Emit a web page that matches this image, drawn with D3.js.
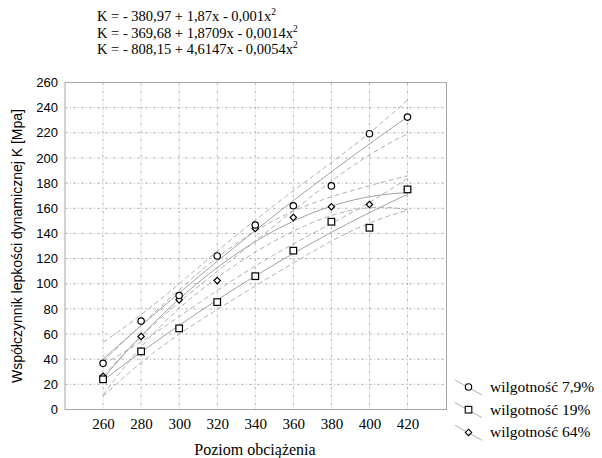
<!DOCTYPE html>
<html><head><meta charset="utf-8">
<script src="https://cdn.jsdelivr.net/npm/d3@7"></script>
<style>body{margin:0;background:#fff}</style>
</head><body>
<script>
const xValues = [260, 280, 300, 320, 340, 360, 380, 400, 420];
const series1 = [36.7, 70.3, 90.6, 122.1, 146.7, 162.0, 177.8, 219.3, 232.5]; // wilgotność 7,9%
const series2 = [24.0, 46.2, 64.5, 85.4, 106.0, 126.3, 149.3, 144.5, 175.0]; // wilgotność 19%
const series3 = [26.4, 58.1, 87.2, 102.5, 144.0, 152.7, 161.2, 163.0, 175.0]; // wilgotność 64%
const seriesNames = ["wilgotność 7,9%", "wilgotność 19%", "wilgotność 64%"];
const seriesSymbols = ["circle", "square", "diamond"];
const xTicks = [260, 280, 300, 320, 340, 360, 380, 400, 420];
const yTicks = [0, 20, 40, 60, 80, 100, 120, 140, 160, 180, 200, 220, 240, 260];
const equations = [
  ["K = - 380,97 + 1,87x - 0,001x", "2"],
  ["K = - 369,68 + 1,8709x - 0,0014x", "2"],
  ["K = - 808,15 + 4,6147x - 0,0054x", "2"]
];
const tCrit = 2.447; // t(0.975, df = 6)

const SERIF = "'Liberation Serif', 'Times New Roman', serif";
const SANS = "'Liberation Sans', Arial, sans-serif";

const W = 602, H = 458;
const svg = d3.select("body").append("svg").attr("width", W).attr("height", H);
const L = 65, R = 446.5, T = 82.5, B = 409.5;
const x = d3.scaleLinear().domain([240, 440.5]).range([L, R]);
const y = d3.scaleLinear().domain([0, 260]).range([B, T]);

// grid
const g = svg.append("g");
g.selectAll(".gx").data(xTicks).join("line")
  .attr("x1", d => x(d)).attr("x2", d => x(d)).attr("y1", T).attr("y2", B)
  .attr("stroke", "#b8b8b8").attr("stroke-width", 1).attr("stroke-dasharray", "3,2,1,2");
g.selectAll(".gy").data(yTicks.slice(1, -1)).join("line")
  .attr("x1", L).attr("x2", R).attr("y1", d => y(d)).attr("y2", d => y(d))
  .attr("stroke", "#b8b8b8").attr("stroke-width", 1).attr("stroke-dasharray", "3,2,1,2");
svg.append("rect").attr("x", L).attr("y", T).attr("width", R - L).attr("height", B - T)
  .attr("fill", "none").attr("stroke", "#a8a8a8").attr("stroke-width", 1);

// axes
const xAxis = svg.append("g").attr("transform", `translate(0,${B})`)
  .call(d3.axisBottom(x).tickValues(xTicks).tickSize(0).tickPadding(9).tickFormat(d3.format("d")));
xAxis.select(".domain").remove();
xAxis.attr("font-family", SERIF).attr("font-size", 15);
xAxis.selectAll("text").style("font-family", SERIF).style("font-size", "15px").attr("fill", "#000");
const yAxis = svg.append("g").attr("transform", `translate(${L},0)`)
  .call(d3.axisLeft(y).tickValues(yTicks).tickSize(0).tickPadding(7).tickFormat(d3.format("d")));
yAxis.select(".domain").remove();
yAxis.attr("font-family", SANS).attr("font-size", 13);
yAxis.selectAll("text").style("font-family", SANS).style("font-size", "13px").attr("fill", "#000");

// titles
svg.append("text").attr("x", 255).attr("y", 455).attr("text-anchor", "middle")
  .style("font-family", SERIF).style("font-size", "16px")
  .text("Poziom obciążenia");
svg.append("text").attr("transform", `translate(22,${(T + B) / 2}) rotate(-90)`).attr("text-anchor", "middle")
  .style("font-family", SANS).style("font-size", "14px")
  .text("Współczynnik lepkości dynamicznej K [Mpa]");

// equations
equations.forEach((e, i) => {
  const t = svg.append("text").attr("x", 97).attr("y", 21 + i * 16.5)
    .style("font-family", SERIF).style("font-size", "14.5px");
  t.append("tspan").text(e[0]);
  t.append("tspan").attr("dy", -6).style("font-size", "9.5px").text(e[1]);
});

// quadratic least squares fit + 95% confidence band
function inv3(m) {
  const [a, b, c] = m[0], [d, e, f] = m[1], [gg, h, k] = m[2];
  const A = e * k - f * h, Bc = -(d * k - f * gg), C = d * h - e * gg;
  const det = a * A + b * Bc + c * C;
  return [
    [A / det, -(b * k - c * h) / det, (b * f - c * e) / det],
    [Bc / det, (a * k - c * gg) / det, -(a * f - c * d) / det],
    [C / det, -(a * h - b * gg) / det, (a * e - b * d) / det]
  ];
}
function fit(xs, ys) {
  const xc = 340;
  const rows = xs.map(v => [1, v - xc, (v - xc) * (v - xc)]);
  const XtX = [0, 1, 2].map(i => [0, 1, 2].map(j => d3.sum(rows, r => r[i] * r[j])));
  const Xty = [0, 1, 2].map(i => d3.sum(rows, (r, n) => r[i] * ys[n]));
  const Inv = inv3(XtX);
  const beta = Inv.map(row => row[0] * Xty[0] + row[1] * Xty[1] + row[2] * Xty[2]);
  const pred = r => beta[0] * r[0] + beta[1] * r[1] + beta[2] * r[2];
  const sse = d3.sum(rows, (r, n) => (ys[n] - pred(r)) ** 2);
  const s2 = sse / (xs.length - 3);
  return v => {
    const r = [1, v - xc, (v - xc) * (v - xc)];
    let q = 0;
    for (let i = 0; i < 3; i++) for (let j = 0; j < 3; j++) q += r[i] * Inv[i][j] * r[j];
    const yh = pred(r), se = Math.sqrt(s2 * q);
    return { x: v, y: yh, lo: yh - tCrit * se, hi: yh + tCrit * se };
  };
}

const allSeries = [series1, series2, series3];
const grid = d3.range(xValues[0], xValues[xValues.length - 1] + 0.001, 2);
const line = key => d3.line().x(d => x(d.x)).y(d => y(d[key])).curve(d3.curveLinear);
allSeries.forEach(ys => {
  const f = fit(xValues, ys);
  const pts = grid.map(f);
  svg.append("path").datum(pts).attr("d", line("y")).attr("fill", "none")
    .attr("stroke", "#a0a0a0").attr("stroke-width", 1);
  ["lo", "hi"].forEach(k => svg.append("path").datum(pts).attr("d", line(k)).attr("fill", "none")
    .attr("stroke", "#b0b0b0").attr("stroke-width", 1).attr("stroke-dasharray", "5,3"));
});

// markers (diamonds underneath, squares on top)
function marker(sel, type, cx, cy) {
  if (type === "circle") sel.append("circle").attr("cx", cx).attr("cy", cy).attr("r", 3.2);
  else if (type === "square") sel.append("rect").attr("x", cx - 3.3).attr("y", cy - 3.3).attr("width", 6.6).attr("height", 6.6);
  else sel.append("path").attr("d", `M${cx},${cy - 3.2}L${cx + 3.2},${cy}L${cx},${cy + 3.2}L${cx - 3.2},${cy}Z`);
}
[2, 0, 1].forEach(si => {
  const mg = svg.append("g").attr("fill", "#fff").attr("stroke", "#000").attr("stroke-width", 1.2);
  allSeries[si].forEach((v, i) => marker(mg, seriesSymbols[si], x(xValues[i]), y(v)));
});

// legend
seriesNames.forEach((name, i) => {
  const cy = 387 + i * 22.7;
  svg.append("line").attr("x1", 455).attr("y1", cy - 7).attr("x2", 482).attr("y2", cy + 8)
    .attr("stroke", "#b0b0b0").attr("stroke-width", 1);
  const mg = svg.append("g").attr("fill", "#fff").attr("stroke", "#000").attr("stroke-width", 1.1);
  marker(mg, seriesSymbols[i], 468.5, cy);
  svg.append("text").attr("x", 490).attr("y", cy + 5)
    .style("font-family", SERIF).style("font-size", "15.5px")
    .text(name);
});
</script>
</body></html>
